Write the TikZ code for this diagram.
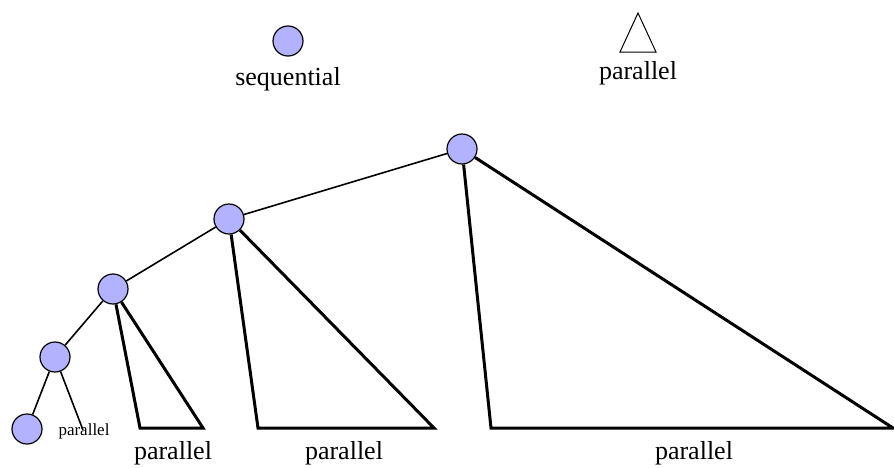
\documentclass[tikz,border=0pt]{standalone}
\usepackage{fontspec}
\setmainfont{Liberation Serif}
\usetikzlibrary{positioning}

\begin{document}
\begin{tikzpicture}[
    x=1pt, y=-1pt,
    seq/.style={circle, draw, fill=blue!30, minimum size=30pt, inner sep=0pt, line width=1.2pt},
    edge/.style={line width=1.6pt},
    par/.style={line width=3pt},
    label/.style={font=\fontsize{26}{29}\selectfont},
    smalllabel/.style={font=\fontsize{17}{19}\selectfont}
]
\useasboundingbox (0,0) rectangle (894,467);

% Legend
\node[seq] (legseq) at (288,41) {};
\node[label, below=7pt of legseq] (legseqtext) {sequential};
\coordinate (legtop) at (638,13);
\coordinate (legleft) at (620,52);
\coordinate (legright) at (656,52);
\draw[line width=1pt] (legtop) -- (legleft) -- (legright) -- cycle;
\node[label] (legpartext) at (638,73) {parallel};

% Sequential spine
\node[seq] (a) at (462,149) {};
\node[seq] (b) at (229,219) {};
\node[seq] (c) at (113,289) {};
\node[seq] (d) at (55,357) {};
\node[seq] (e) at (27,429) {};

\draw[edge] (a) -- (b);
\draw[edge] (b) -- (c);
\draw[edge] (c) -- (d);
\draw[edge] (d) -- (e);

% Parallel parts
\draw[edge] (d) -- (83,430) coordinate (dend);
\node[smalllabel] (dpar) at (84,431) {parallel};

\coordinate (cl) at (140,428);
\coordinate (cr) at (203,428);
\draw[par] (c) -- (cl) -- (cr) -- (c);
\node[label] (cpar) at (173,453) {parallel};

\coordinate (bl) at (258,428);
\coordinate (br) at (434,428);
\draw[par] (b) -- (bl) -- (br) -- (b);
\node[label] (bpar) at (344,453) {parallel};

\coordinate (al) at (491,428);
\coordinate (ar) at (893,428);
\draw[par] (a) -- (al) -- (ar) -- (a);
\node[label] (apar) at (694,453) {parallel};

\end{tikzpicture}
\end{document}
